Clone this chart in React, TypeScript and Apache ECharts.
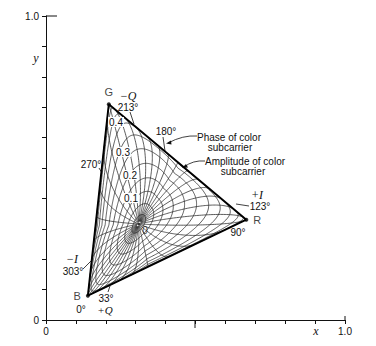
import React, { useEffect, useRef } from 'react';
import * as echarts from 'echarts';

// NTSC primaries and reference white (illuminant C)
const primaryNames = ['R', 'G', 'B'];
const primaryX = [0.67, 0.21, 0.14];
const primaryY = [0.33, 0.71, 0.08];
const whiteXY = [0.31, 0.316];
// luminance weights and colour-difference divisors (R'-Y')/1.14, (B'-Y')/2.03
const lumaWeights = [0.299, 0.587, 0.114];
const rmyDivisor = 1.14;
const bmyDivisor = 2.03;
const displayGamma = 2.2;
// loci that are drawn
const amplitudeLevels = [0.05, 0.1, 0.15, 0.2, 0.25, 0.3, 0.35, 0.4, 0.45, 0.5, 0.55, 0.6];
const phaseAngles = [0, 10, 20, 30, 40, 50, 60, 70, 80, 90, 100, 110, 120, 130, 140, 150, 160, 170,
  180, 190, 200, 210, 220, 230, 240, 250, 260, 270, 280, 290, 300, 310, 320, 330, 340, 350];
const phaseStartAmplitude = 0.015;
const amplitudeLabels = ['0.1', '0.2', '0.3', '0.4'];
const xTickLabels = ['0', '1.0'];
const yTickLabels = ['0', '1.0'];

function solve3(m: number[][], b: number[]): number[] {
  const det = (a: number[][]) =>
    a[0][0] * (a[1][1] * a[2][2] - a[1][2] * a[2][1]) -
    a[0][1] * (a[1][0] * a[2][2] - a[1][2] * a[2][0]) +
    a[0][2] * (a[1][0] * a[2][1] - a[1][1] * a[2][0]);
  const D = det(m);
  return [0, 1, 2].map((c) => {
    const mm = m.map((row, r) => row.map((v, k) => (k === c ? b[r] : v)));
    return det(mm) / D;
  });
}

function buildMatrix(): number[][] {
  const cols = primaryX.map((x, i) => {
    const y = primaryY[i];
    return [x / y, 1, (1 - x - y) / y];
  });
  const m = [0, 1, 2].map((r) => cols.map((c) => c[r]));
  const w = [whiteXY[0] / whiteXY[1], 1, (1 - whiteXY[0] - whiteXY[1]) / whiteXY[1]];
  const s = solve3(m, w);
  return m.map((row) => row.map((v, k) => v * s[k]));
}
const M = buildMatrix();

function direction(thetaDeg: number): number[] {
  const t = (thetaDeg * Math.PI) / 180;
  const bmy = bmyDivisor * Math.cos(t);
  const rmy = rmyDivisor * Math.sin(t);
  const gmy = -(lumaWeights[0] * rmy + lumaWeights[2] * bmy) / lumaWeights[1];
  return [rmy, gmy, bmy];
}
function amax(thetaDeg: number): number {
  const d = direction(thetaDeg);
  return 1 / (Math.max(...d) - Math.min(...d));
}
function toXY(A: number, thetaDeg: number): number[] {
  const d = direction(thetaDeg);
  const c = 1 - A * Math.max(...d);
  const lin = d.map((v) => Math.pow(Math.max(0, c + A * v), displayGamma));
  const X = M[0][0] * lin[0] + M[0][1] * lin[1] + M[0][2] * lin[2];
  const Y = M[1][0] * lin[0] + M[1][1] * lin[1] + M[1][2] * lin[2];
  const Z = M[2][0] * lin[0] + M[2][1] * lin[1] + M[2][2] * lin[2];
  const s = X + Y + Z;
  return [X / s, Y / s];
}
function boundary(A: number, t0: number, t1: number): number {
  let a = t0, b = t1;
  const va = amax(a) >= A;
  for (let i = 0; i < 30; i++) {
    const m = (a + b) / 2;
    if ((amax(m) >= A) === va) a = m; else b = m;
  }
  return (a + b) / 2;
}
function amplitudeSegments(A: number): number[][][] {
  const segs: number[][][] = [];
  let cur: number[][] = [];
  const step = 0.5;
  let prevT = 0;
  let prevValid = amax(0) >= A;
  if (prevValid) cur.push(toXY(A, 0));
  for (let t = step; t <= 360 + 1e-9; t += step) {
    const v = amax(t) >= A;
    if (v && prevValid) cur.push(toXY(A, t));
    else if (v && !prevValid) {
      const tb = boundary(A, t, prevT);
      cur = [toXY(A, tb), toXY(A, t)];
    } else if (!v && prevValid) {
      const tb = boundary(A, prevT, t);
      cur.push(toXY(A, tb));
      segs.push(cur);
      cur = [];
    }
    prevValid = v;
    prevT = t;
  }
  if (cur.length > 1) segs.push(cur);
  if (segs.length > 1 && amax(0) >= A) {
    const last = segs.pop() as number[][];
    segs[0] = last.concat(segs[0]);
  }
  return segs;
}
function phaseLine(theta: number): number[][] {
  const am = amax(theta);
  const n = 80;
  const pts: number[][] = [];
  for (let k = 0; k <= n; k++) pts.push(toXY(phaseStartAmplitude + ((am - phaseStartAmplitude) * k) / n, theta));
  return pts;
}

const serif = '"Liberation Serif", "DejaVu Serif", serif';
const sans = '"Liberation Sans", Arial, sans-serif';

export default function App() {
  const ref = useRef<HTMLDivElement>(null);
  useEffect(() => {
    if (!ref.current) return;
    const chart = echarts.init(ref.current, undefined, { renderer: 'svg' });
    const curveStyle = { color: '#262626', width: 0.75 };
    const series: any[] = [];
    amplitudeLevels.forEach((A) => {
      amplitudeSegments(A).forEach((seg) => {
        series.push({ type: 'line', data: seg, showSymbol: false, silent: true, lineStyle: curveStyle, z: 2 });
      });
    });
    phaseAngles.forEach((t) => {
      series.push({ type: 'line', data: phaseLine(t), showSymbol: false, silent: true, lineStyle: curveStyle, z: 2 });
    });
    const tri = [0, 1, 2, 0].map((i) => [primaryX[i], primaryY[i]]);
    series.push({ type: 'line', data: tri, showSymbol: false, silent: true, lineStyle: { color: '#000', width: 1.9 }, z: 3 });
    const labelPos: any = { R: ['right', 5], G: ['top', 5], B: ['left', 5] };
    series.push({
      type: 'scatter', symbolSize: 4, itemStyle: { color: '#000' }, z: 4, silent: true,
      data: primaryNames.map((n, i) => ({
        value: [primaryX[i], primaryY[i]], name: n,
        label: { show: true, formatter: n, position: labelPos[n][0], distance: labelPos[n][1], color: '#111', fontFamily: sans, fontSize: 11 },
      })),
    });
    series.push({
      type: 'scatter', symbolSize: 3, itemStyle: { color: '#000' }, z: 4, silent: true,
      data: [{ value: whiteXY, label: { show: true, formatter: '0', position: 'right', offset: [-3, 7], color: '#111', fontFamily: sans, fontSize: 10 } }],
    });

    const txt = (x: number, y: number, s: string, opt: any = {}) => ({
      type: 'text', x, y, silent: true, z: 10,
      style: {
        text: s, fill: '#111', font: `${opt.italic ? 'italic ' : ''}${opt.size || 10}px ${opt.serif ? serif : sans}`,
        textAlign: opt.align || 'center', textVerticalAlign: 'middle',
        backgroundColor: opt.bg ? '#fff' : undefined, padding: opt.bg ? [0, 1] : undefined,
      },
    });
    const ln = (x1: number, y1: number, x2: number, y2: number, w = 0.8) => ({
      type: 'line', silent: true, shape: { x1, y1, x2, y2 }, style: { stroke: '#111', lineWidth: w },
    });
    const graphic: any[] = [
      txt(36, 58, 'y', { italic: true, serif: true, size: 12 }),
      txt(316, 331, 'x', { italic: true, serif: true, size: 12 }),
      ln(46, 16, 57, 16, 1),
      ln(345, 316, 345, 320, 1),
      ln(195, 320, 195, 328, 1),
      txt(128, 96, '\u2212Q', { italic: true, serif: true, size: 12 }),
      txt(128, 107, '213\u00b0'),
      ln(130, 112, 134, 124),
      txt(166, 131, '180\u00b0'),
      ln(163, 137, 165, 151),
      txt(229, 137, 'Phase of color'),
      txt(230, 147, 'subcarrier'),
      { type: 'bezierCurve', silent: true, shape: { x1: 197, y1: 136, x2: 168, y2: 143, cpx1: 183, cpy1: 135 }, style: { stroke: '#111', lineWidth: 0.8, fill: 'none' } },
      { type: 'polygon', silent: true, shape: { points: [[166, 143.5], [171, 140.5], [171.5, 144.5]] }, style: { fill: '#111' } },
      txt(245, 161, 'Amplitude of color'),
      txt(243, 171, 'subcarrier'),
      { type: 'bezierCurve', silent: true, shape: { x1: 205, y1: 161, x2: 184, y2: 167, cpx1: 193, cpy1: 160 }, style: { stroke: '#111', lineWidth: 0.8, fill: 'none' } },
      { type: 'polygon', silent: true, shape: { points: [[182, 168], [186, 164], [188, 167.5]] }, style: { fill: '#111' } },
      txt(257, 195, '+I', { italic: true, serif: true, size: 12 }),
      txt(260, 206, '123\u00b0'),
      ln(236, 204, 249, 206),
      txt(238, 232, '90\u00b0'),
      txt(91, 164, '270\u00b0'),
      ln(99, 168, 102, 173),
      txt(72, 259, '\u2212I', { italic: true, serif: true, size: 12 }),
      txt(73, 271, '303\u00b0'),
      ln(83, 269, 92, 260),
      txt(81, 309, '0\u00b0'),
      txt(106, 298, '33\u00b0'),
      txt(105, 310, '+Q', { italic: true, serif: true, size: 11 }),
      ln(108, 292, 110, 286),
      txt(131, 198, amplitudeLabels[0], { bg: true }),
      txt(130, 175, amplitudeLabels[1], { bg: true }),
      txt(123, 152, amplitudeLabels[2], { bg: true }),
      txt(116, 122, amplitudeLabels[3], { bg: true }),
    ];

    chart.setOption({
      animation: false,
      backgroundColor: '#fff',
      grid: { left: 46, top: 16, width: 299, height: 304 },
      xAxis: {
        type: 'value', min: 0, max: 1, interval: 0.1,
        axisLine: { lineStyle: { color: '#111', width: 1 } },
        axisTick: { show: true, length: 4, lineStyle: { color: '#111' } },
        splitLine: { show: false },
        axisLabel: {
          color: '#111', fontFamily: sans, fontSize: 10, margin: 6,
          formatter: (v: number) => (Math.abs(v) < 1e-9 ? xTickLabels[0] : Math.abs(v - 1) < 1e-9 ? xTickLabels[1] : ''),
        },
      },
      yAxis: {
        type: 'value', min: 0, max: 1, interval: 0.1,
        axisLine: { show: true, lineStyle: { color: '#111', width: 1 } },
        axisTick: { show: true, length: 4, lineStyle: { color: '#111' } },
        splitLine: { show: false },
        axisLabel: {
          color: '#111', fontFamily: sans, fontSize: 10, margin: 7,
          formatter: (v: number) => (Math.abs(v) < 1e-9 ? yTickLabels[0] : Math.abs(v - 1) < 1e-9 ? yTickLabels[1] : ''),
        },
      },
      series,
      graphic,
    });
    return () => chart.dispose();
  }, []);
  return <div ref={ref} style={{ position: 'fixed', left: 0, top: 0, width: 376, height: 346, background: '#fff' }} />;
}
